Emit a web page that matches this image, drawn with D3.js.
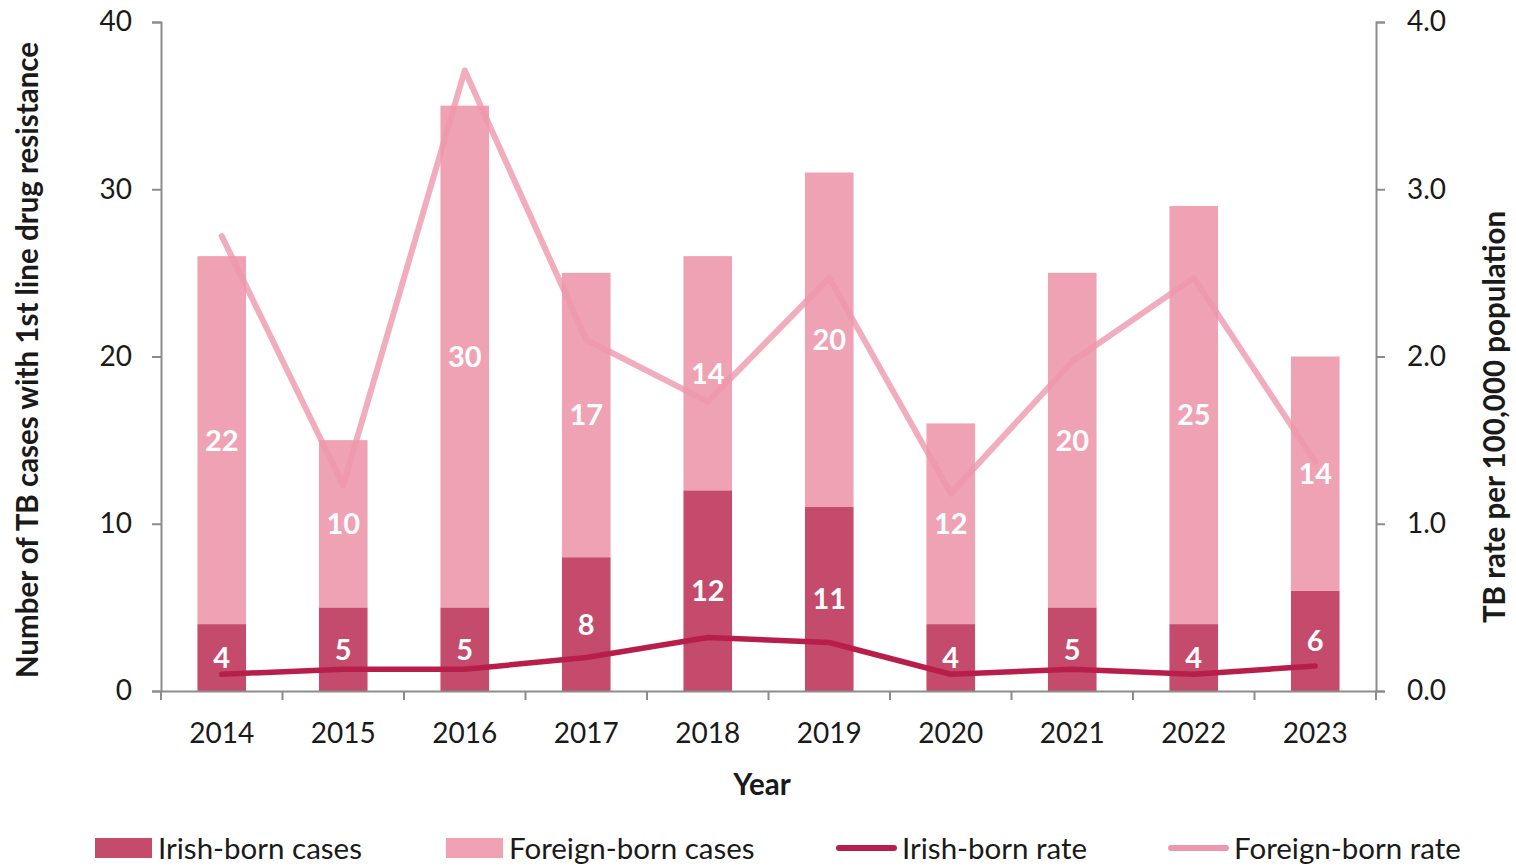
<!DOCTYPE html>
<html><head><meta charset="utf-8">
<script src="https://cdn.jsdelivr.net/npm/d3@7"></script>
<style>body{margin:0;background:#fff}svg{display:block}text{font-family:Lato,"Open Sans",sans-serif}</style>
</head><body><svg id="c" width="1516" height="866"></svg>
<script>
const years = ["2014","2015","2016","2017","2018","2019","2020","2021","2022","2023"];
const irishCases = [4,5,5,8,12,11,4,5,4,6];
const foreignCases = [22,10,30,17,14,20,12,20,25,14];
const irishRate = [0.10,0.13,0.13,0.20,0.32,0.29,0.10,0.13,0.10,0.15];
const foreignRate = [2.72,1.23,3.71,2.10,1.73,2.47,1.18,1.97,2.47,1.37];
const leftTicks = [0,10,20,30,40];
const rightTicks = [0,1,2,3,4];

const C = {irishBar:"#C54B6D", foreignBar:"#EFA2B4", irishLine:"#B81E4A", foreignLine:"#EE97AD", axis:"#8C8C8C", text:"#1a1a1a"};
const svg = d3.select("#c");
const L=161, R=1376, T=22, B=691;
const x = d3.scaleBand().domain(years).range([L,R]).paddingInner(0.6).paddingOuter(0.3);
const xc = d => x(d)+x.bandwidth()/2;
const yL = d3.scaleLinear().domain([0,40]).range([B,T]);
const yR = d3.scaleLinear().domain([0,4]).range([B,T]);

const FS=28, TS=29.5, LS=29;
// bars
const g = svg.append("g");
years.forEach((yr,i)=>{
  g.append("rect").attr("x",x(yr)).attr("width",x.bandwidth()).attr("y",yL(irishCases[i])).attr("height",yL(0)-yL(irishCases[i])).attr("fill",C.irishBar);
  g.append("rect").attr("x",x(yr)).attr("width",x.bandwidth()).attr("y",yL(irishCases[i]+foreignCases[i])).attr("height",yL(irishCases[i])-yL(irishCases[i]+foreignCases[i])).attr("fill",C.foreignBar);
});
// lines
const line = arr => d3.line().x((d,i)=>xc(years[i])).y(d=>yR(d))(arr);
svg.append("path").attr("d",line(irishRate)).attr("fill","none").attr("stroke",C.irishLine).attr("stroke-width",5.5).attr("stroke-linecap","round").attr("stroke-linejoin","round");
svg.append("path").attr("d",line(foreignRate)).attr("fill","none").attr("stroke",C.foreignLine).attr("stroke-opacity",0.8).attr("stroke-width",6).attr("stroke-linecap","round").attr("stroke-linejoin","round");
// labels
years.forEach((yr,i)=>{
  svg.append("text").attr("x",xc(yr)).attr("y",yL(irishCases[i]/2)).attr("dy","0.36em").attr("text-anchor","middle").attr("fill","#fff").attr("font-weight",700).attr("font-size",LS).text(irishCases[i]);
  svg.append("text").attr("x",xc(yr)).attr("y",yL(irishCases[i]+foreignCases[i]/2)).attr("dy","0.36em").attr("text-anchor","middle").attr("fill","#fff").attr("font-weight",700).attr("font-size",LS).text(foreignCases[i]);
});
// axes
const ax = svg.append("g").attr("transform",`translate(${L},0)`).call(d3.axisLeft(yL).tickValues(leftTicks).tickSizeOuter(0).tickSize(9).tickPadding(20).tickFormat(d3.format("d")));
const ar = svg.append("g").attr("transform",`translate(${R},0)`).call(d3.axisRight(yR).tickValues(rightTicks).tickSizeOuter(0).tickSize(9).tickPadding(22).tickFormat(d3.format(".1f")));
const xa = svg.append("g").attr("transform",`translate(0,${B})`).call(d3.axisBottom(x).tickSize(0).tickPadding(32).tickSizeOuter(0));
// category boundary ticks
const bounds = years.map((yr,i)=>L+i*(R-L)/years.length).concat([R]);
xa.selectAll(".bt").data(bounds).enter().append("line").attr("x1",d=>d).attr("x2",d=>d).attr("y1",0).attr("y2",9).attr("stroke",C.axis).attr("stroke-width",2);
[ax,ar,xa].forEach(a=>{
  a.selectAll("path.domain,line").attr("stroke",C.axis).attr("stroke-width",2);
  a.selectAll("text").attr("font-size",FS).attr("fill",C.text).attr("font-family","Lato");
});
// titles
svg.append("text").attr("transform",`translate(38,360) rotate(-90)`).attr("text-anchor","middle").attr("font-size",TS).attr("font-weight",700).attr("fill",C.text).text("Number of TB cases with 1st line drug resistance");
svg.append("text").attr("transform",`translate(1505,417) rotate(-90)`).attr("text-anchor","middle").attr("font-size",TS).attr("font-weight",700).attr("fill",C.text).text("TB rate per 100,000 population");
svg.append("text").attr("x",762).attr("y",795).attr("text-anchor","middle").attr("font-size",TS).attr("font-weight",700).attr("fill",C.text).text("Year");
// legend
const legend = [
  {label:"Irish-born cases", type:"rect", color:C.irishBar, x:95},
  {label:"Foreign-born cases", type:"rect", color:C.foreignBar, x:446},
  {label:"Irish-born rate", type:"line", color:C.irishLine, x:836},
  {label:"Foreign-born rate", type:"line", color:C.foreignLine, x:1168}
];
const ly = 848;
legend.forEach(l=>{
  if(l.type==="rect"){
    svg.append("rect").attr("x",l.x).attr("y",ly-10).attr("width",57).attr("height",20).attr("fill",l.color);
    svg.append("text").attr("x",l.x+63).attr("y",ly).attr("dy","0.36em").attr("font-size",TS).attr("fill",C.text).text(l.label);
  } else {
    svg.append("line").attr("x1",l.x+3).attr("x2",l.x+58).attr("y1",ly).attr("y2",ly).attr("stroke",l.color).attr("stroke-width",6).attr("stroke-linecap","round");
    svg.append("text").attr("x",l.x+66).attr("y",ly).attr("dy","0.36em").attr("font-size",TS).attr("fill",C.text).text(l.label);
  }
});
</script></body></html>
